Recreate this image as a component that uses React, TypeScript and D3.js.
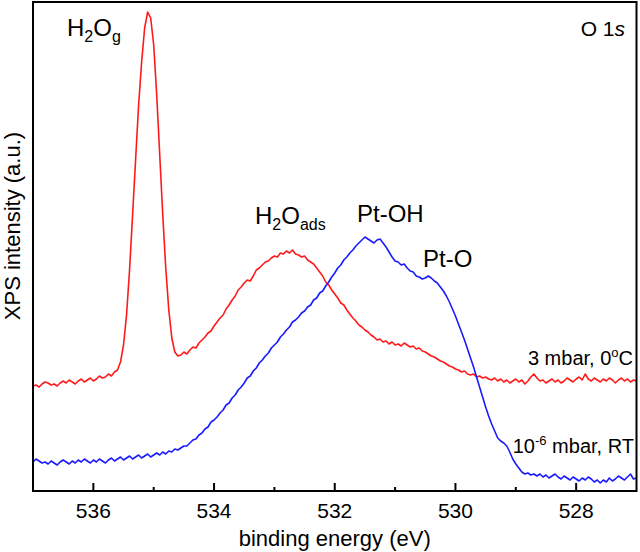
import React from "react";
import * as d3 from "d3";

const energies: number[] = [
  537.0, 536.95, 536.9, 536.85, 536.8, 536.75, 536.7, 536.65, 536.6, 536.55,
  536.5, 536.45, 536.4, 536.35, 536.3, 536.25, 536.2, 536.15, 536.1, 536.05,
  536.0, 535.95, 535.9, 535.85, 535.8, 535.75, 535.7, 535.65, 535.6, 535.55,
  535.5, 535.45, 535.4, 535.35, 535.3, 535.25, 535.2, 535.15, 535.1, 535.05,
  535.0, 534.95, 534.9, 534.85, 534.8, 534.75, 534.7, 534.65, 534.6, 534.55,
  534.5, 534.45, 534.4, 534.35, 534.3, 534.25, 534.2, 534.15, 534.1, 534.05,
  534.0, 533.95, 533.9, 533.85, 533.8, 533.75, 533.7, 533.65, 533.6, 533.55,
  533.5, 533.45, 533.4, 533.35, 533.3, 533.25, 533.2, 533.15, 533.1, 533.05,
  533.0, 532.95, 532.9, 532.85, 532.8, 532.75, 532.7, 532.65, 532.6, 532.55,
  532.5, 532.45, 532.4, 532.35, 532.3, 532.25, 532.2, 532.15, 532.1, 532.05,
  532.0, 531.95, 531.9, 531.85, 531.8, 531.75, 531.7, 531.65, 531.6, 531.55,
  531.5, 531.45, 531.4, 531.35, 531.3, 531.25, 531.2, 531.15, 531.1, 531.05,
  531.0, 530.95, 530.9, 530.85, 530.8, 530.75, 530.7, 530.65, 530.6, 530.55,
  530.5, 530.45, 530.4, 530.35, 530.3, 530.25, 530.2, 530.15, 530.1, 530.05,
  530.0, 529.95, 529.9, 529.85, 529.8, 529.75, 529.7, 529.65, 529.6, 529.55,
  529.5, 529.45, 529.4, 529.35, 529.3, 529.25, 529.2, 529.15, 529.1, 529.05,
  529.0, 528.95, 528.9, 528.85, 528.8, 528.75, 528.7, 528.65, 528.6, 528.55,
  528.5, 528.45, 528.4, 528.35, 528.3, 528.25, 528.2, 528.15, 528.1, 528.05,
  528.0, 527.95, 527.9, 527.85, 527.8, 527.75, 527.7, 527.65, 527.6, 527.55,
  527.5, 527.45, 527.4, 527.35, 527.3, 527.25, 527.2, 527.15, 527.1, 527.05,
  527.0,
];

// 3 mbar, 0 °C (red)
const wetIntensity: number[] = [
  105, 106, 104, 107, 109, 108, 106, 107, 105, 108,
  110, 108, 111, 109, 107, 110, 112, 109, 111, 113,
  110, 112, 115, 113, 114, 117, 115, 119, 121, 129,
  146, 176, 221, 276, 331, 386, 429, 463, 479, 473,
  446, 396, 336, 276, 223, 181, 153, 139, 135, 136,
  139, 137, 141, 144, 143, 148, 151, 154, 158, 160,
  165, 169, 173, 176, 182, 186, 191, 195, 201, 204,
  208, 211, 210, 215, 221, 223, 226, 229, 230, 233,
  235, 234, 238, 237, 240, 238, 241, 237, 236, 234,
  235, 231, 229, 227, 223, 219, 215, 209, 206, 201,
  197, 193, 188, 186, 181, 177, 173, 170, 166, 164,
  161, 159, 156, 154, 151, 152, 149, 150, 147, 149,
  146, 147, 145, 148, 146, 144, 145, 142, 143, 140,
  139, 137, 135, 134, 132, 130, 129, 127, 125, 124,
  122, 121, 119, 120, 117, 116, 117, 114, 115, 113,
  114, 112, 111, 113, 110, 112, 109, 111, 108, 110,
  112, 109, 111, 107, 110, 114, 117, 113, 110, 111,
  108, 110, 112, 109, 111, 108, 110, 113, 111, 109,
  112, 114, 111, 117, 112, 110, 113, 111, 109, 112,
  110, 113, 111, 108, 111, 113, 110, 112, 109, 111,
  110,
];

// 10^-6 mbar, RT (blue)
const uhvIntensity: number[] = [
  29, 32, 30, 28, 29, 27, 30, 28, 26, 29,
  31, 29, 27, 30, 28, 31, 29, 32, 30, 28,
  31, 29, 32, 30, 28, 31, 33, 30, 32, 34,
  31, 33, 35, 32, 34, 36, 33, 35, 37, 34,
  36, 38, 36, 39, 37, 40, 39, 42, 41, 43,
  45, 45, 48, 51, 52, 56, 58, 62, 64, 69,
  71, 74, 78, 81, 86, 88, 93, 96, 101, 104,
  108, 113, 115, 120, 123, 128, 131, 135, 138, 143,
  146, 149, 154, 157, 161, 164, 169, 171, 174, 178,
  180, 184, 186, 191, 193, 198, 200, 205, 209, 214,
  218, 223, 226, 231, 234, 238, 241, 245, 248, 251,
  254, 252, 250, 248, 251, 252, 248, 244, 239, 234,
  230, 229, 226, 227, 223, 220, 219, 215, 214, 212,
  213, 215, 213, 210, 208, 204, 200, 195, 189, 182,
  175, 167, 159, 151, 142, 133, 124, 114, 104, 94,
  84, 75, 67, 60, 53, 50, 48, 45, 39, 32,
  27, 23, 19, 17, 18, 16, 17, 15, 17, 14,
  16, 13, 15, 17, 14, 12, 15, 13, 11, 14,
  12, 10, 13, 11, 14, 12, 9, 11, 8, 11,
  9, 13, 10, 12, 15, 13, 11, 14, 17, 12,
  13,
];

const xDomain: [number, number] = [537, 527];
const majorTicks: number[] = [536, 534, 532, 530, 528];
const minorTicks: number[] = [535, 533, 531, 529];

const FONT = "'Liberation Sans', Arial, Helvetica, sans-serif";

export default function App() {
  const W = 640;
  const H = 552;
  const left = 33;
  const right = 636.5;
  const top = 2;
  const bottom = 491;

  const x = d3.scaleLinear().domain(xDomain).range([left, right]);
  const y = d3.scaleLinear().domain([0, bottom - top]).range([bottom, top]);

  const line = d3
    .line<number>()
    .x((_, i) => x(energies[i]))
    .y((d) => y(d));

  return (
    <svg
      width={W}
      height={H}
      style={{ position: "absolute", left: 0, top: 0, background: "#fff" }}
      fontFamily={FONT}
    >
      <rect x={0} y={0} width={W} height={H} fill="#fff" />
      <path d={line(wetIntensity) || ""} fill="none" stroke="#ff1a1a" strokeWidth={1.6} strokeLinejoin="round" />
      <path d={line(uhvIntensity) || ""} fill="none" stroke="#1a1aff" strokeWidth={1.6} strokeLinejoin="round" />

      {/* frame */}
      <rect x={left} y={top} width={right - left} height={bottom - top} fill="none" stroke="#000" strokeWidth={2} />

      {/* ticks */}
      {majorTicks.map((t) => (
        <g key={"M" + t}>
          <line x1={x(t)} x2={x(t)} y1={bottom} y2={bottom - 8} stroke="#000" strokeWidth={2} />
          <text x={x(t)} y={518} fontSize={21} textAnchor="middle" fill="#000">
            {t}
          </text>
        </g>
      ))}
      {minorTicks.map((t) => (
        <line key={"m" + t} x1={x(t)} x2={x(t)} y1={bottom} y2={bottom - 4} stroke="#000" strokeWidth={2} />
      ))}

      {/* axis titles */}
      <text x={(left + right) / 2} y={546} fontSize={22} textAnchor="middle" fill="#000">
        binding energy (eV)
      </text>
      <text
        transform={`translate(20,226) rotate(-90)`}
        fontSize={22}
        textAnchor="middle"
        fill="#000"
      >
        XPS intensity (a.u.)
      </text>

      {/* annotations */}
      <text x={67} y={36} fontSize={24} fill="#000">
        H<tspan fontSize={16} dy={6}>2</tspan>
        <tspan dy={-6}>O</tspan>
        <tspan fontSize={16} dy={6}>g</tspan>
      </text>
      <text x={255} y={224} fontSize={24} fill="#000">
        H<tspan fontSize={16} dy={6}>2</tspan>
        <tspan dy={-6}>O</tspan>
        <tspan fontSize={16} dy={6}>ads</tspan>
      </text>
      <text x={357} y={222} fontSize={24} fill="#000">
        Pt-OH
      </text>
      <text x={423} y={267} fontSize={24} fill="#000">
        Pt-O
      </text>
      <text x={625} y={36} fontSize={21} textAnchor="end" fill="#000">
        O 1<tspan fontStyle="italic">s</tspan>
      </text>
      <text x={633} y={365} fontSize={20} textAnchor="end" fill="#000">
        3 mbar, 0<tspan fontSize={13} dy={-8}>o</tspan>
        <tspan dy={8}>C</tspan>
      </text>
      <text x={634} y={453} fontSize={20} textAnchor="end" fill="#000">
        10<tspan fontSize={13} dy={-8}>-6</tspan>
        <tspan dy={8}> mbar, RT</tspan>
      </text>
    </svg>
  );
}
